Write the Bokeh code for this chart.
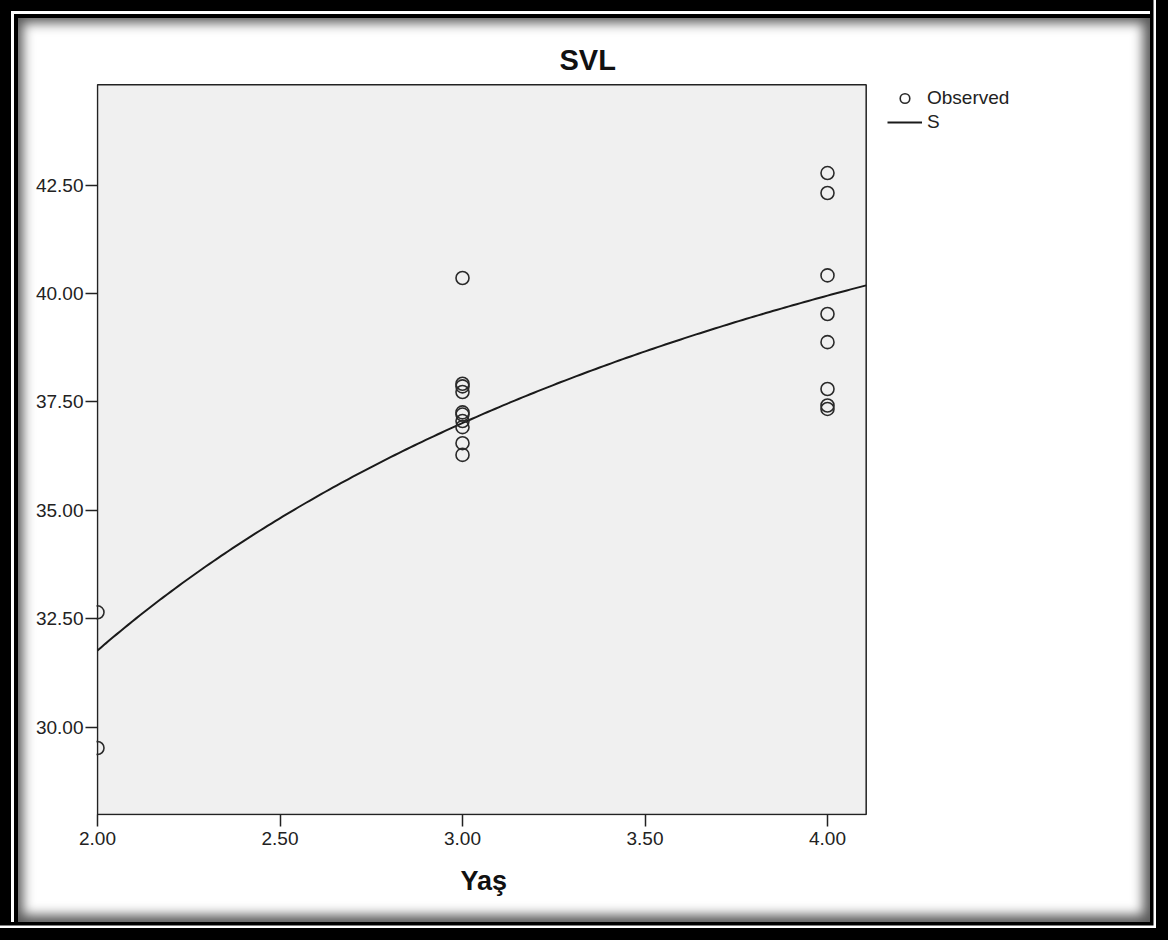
import numpy as np
from bokeh.plotting import figure
from bokeh.models import (Range1d, FixedTicker, PrintfTickFormatter, Legend, LegendItem,
                          GlobalInlineStyleSheet, BoxAnnotation, Title)
from bokeh.embed import file_html
from bokeh.resources import INLINE

# ---- data ----
age_obs = [2, 2,
           3, 3, 3, 3, 3, 3, 3, 3, 3, 3,
           4, 4, 4, 4, 4, 4, 4, 4]
svl_obs = [32.65, 29.52,
           40.36, 37.92, 37.86, 37.73, 37.26, 37.21, 37.06, 36.92, 36.55, 36.28,
           42.78, 42.32, 40.42, 39.53, 38.88, 37.80, 37.42, 37.34]

# S-curve model: SVL = exp(b0 + b1 / age)
s_b0 = 3.9169
s_b1 = -0.9168

# visible axis extents of the chart
x_lo, x_hi = 2.0, 4.106
y_lo, y_hi = 27.987, 44.815

x_ticks = [2.0, 2.5, 3.0, 3.5, 4.0]
y_ticks = [30.0, 32.5, 35.0, 37.5, 40.0, 42.5]

title_text = "SVL"
x_label = "Yaş"

FONT = "Liberation Sans"

# ---- geometry (pixels) ----
W, H = 1152, 924
PX_X = 365.0      # pixels per x unit
PX_Y = 43.36      # pixels per y unit
pad = 1           # frame padding around the visible plot box
box_left, box_top, box_bottom = 97, 84.3, 814
fr_left, fr_top, fr_bottom, fr_right = box_left - pad, 82, box_bottom + pad, 1130

x_start = x_lo - pad / PX_X
x_end = x_lo + (fr_right - box_left) / PX_X
y_start = y_lo - pad / PX_Y
y_end = y_hi + (box_top - fr_top) / PX_Y

age_fit = np.linspace(x_lo, x_hi, 200)
svl_fit = np.exp(s_b0 + s_b1 / age_fit)

p = figure(width=W, height=H, output_backend="svg", toolbar_location=None,
           x_range=Range1d(x_start, x_end), y_range=Range1d(y_start, y_end),
           min_border_left=fr_left, min_border_right=W - fr_right,
           min_border_top=fr_top, min_border_bottom=H - fr_bottom)

p.stylesheets = [GlobalInlineStyleSheet(css="html, body { background-color: #000000; }")]
p.styles = {
    "background-color": "white",
    "box-shadow": ("inset 4.5px 4.5px 0 6.5px #000, "
                   "inset 6px 6px 0 8px #fff, "
                   "inset 8px 8px 0 10px #000, "
                   "inset 7px 7px 12px 16px rgba(0,0,0,0.65), "
                   "0 0 0 1.5px #000, 0 0 0 4px #fff"),
}
p.border_fill_color = None
p.background_fill_color = None
p.outline_line_color = None
p.grid.visible = False

# plot box (grey area with dark border)
box = BoxAnnotation(left=x_lo, right=x_hi, bottom=y_lo, top=y_hi,
                    fill_color="#f0f0f0", fill_alpha=1.0,
                    line_color="#222222", line_alpha=1.0, line_width=1.5,
                    level="underlay")
p.add_layout(box)

# title
p.title.text = title_text
p.title.text_font = FONT
p.title.text_font_style = "bold"
p.title.text_font_size = "29px"
p.title.text_color = "#111111"
p.title.align = "left"
p.title.offset = 559 - fr_left
p.title.standoff = 13

for ax in (p.xaxis[0], p.yaxis[0]):
    ax.axis_line_color = None
    ax.major_tick_line_color = "#222222"
    ax.major_tick_line_width = 1.5
    ax.major_tick_in = pad
    ax.major_tick_out = 11
    ax.minor_tick_line_color = None
    ax.major_label_text_font = FONT
    ax.major_label_text_font_size = "19px"
    ax.major_label_text_color = "#222222"
    ax.formatter = PrintfTickFormatter(format="%.2f")

p.xaxis.ticker = FixedTicker(ticks=x_ticks)
p.yaxis.ticker = FixedTicker(ticks=y_ticks)
p.xaxis.major_label_standoff = 5
p.yaxis.major_label_standoff = 2

# x-axis title, placed under the visible box
xt = Title(text=x_label, align="left", offset=460 - fr_left, vertical_align="top", standoff=36,
           text_font=FONT, text_font_style="bold", text_font_size="27px",
           text_color="#111111")
p.add_layout(xt, "below")

fit_line = p.line(age_fit, svl_fit, line_color="#1a1a1a", line_width=2)
obs = p.scatter(age_obs, svl_obs, marker="circle", size=13, fill_color=None,
                line_color="#2a2a2a", line_width=1.6)

legend = Legend(items=[LegendItem(label="Observed", renderers=[obs]),
                       LegendItem(label="S", renderers=[fit_line])],
                location=(887 - fr_left, fr_bottom - 134))
legend.margin = 0
legend.padding = 0
legend.spacing = 0
legend.glyph_width = 35
legend.glyph_height = 24
legend.label_height = 24
legend.label_standoff = 5
legend.label_text_font = FONT
legend.label_text_font_size = "19px"
legend.label_text_color = "#222222"
legend.background_fill_alpha = 0
legend.border_line_color = None
p.add_layout(legend, "center")

open("out.html", "w").write(file_html(p, INLINE))
